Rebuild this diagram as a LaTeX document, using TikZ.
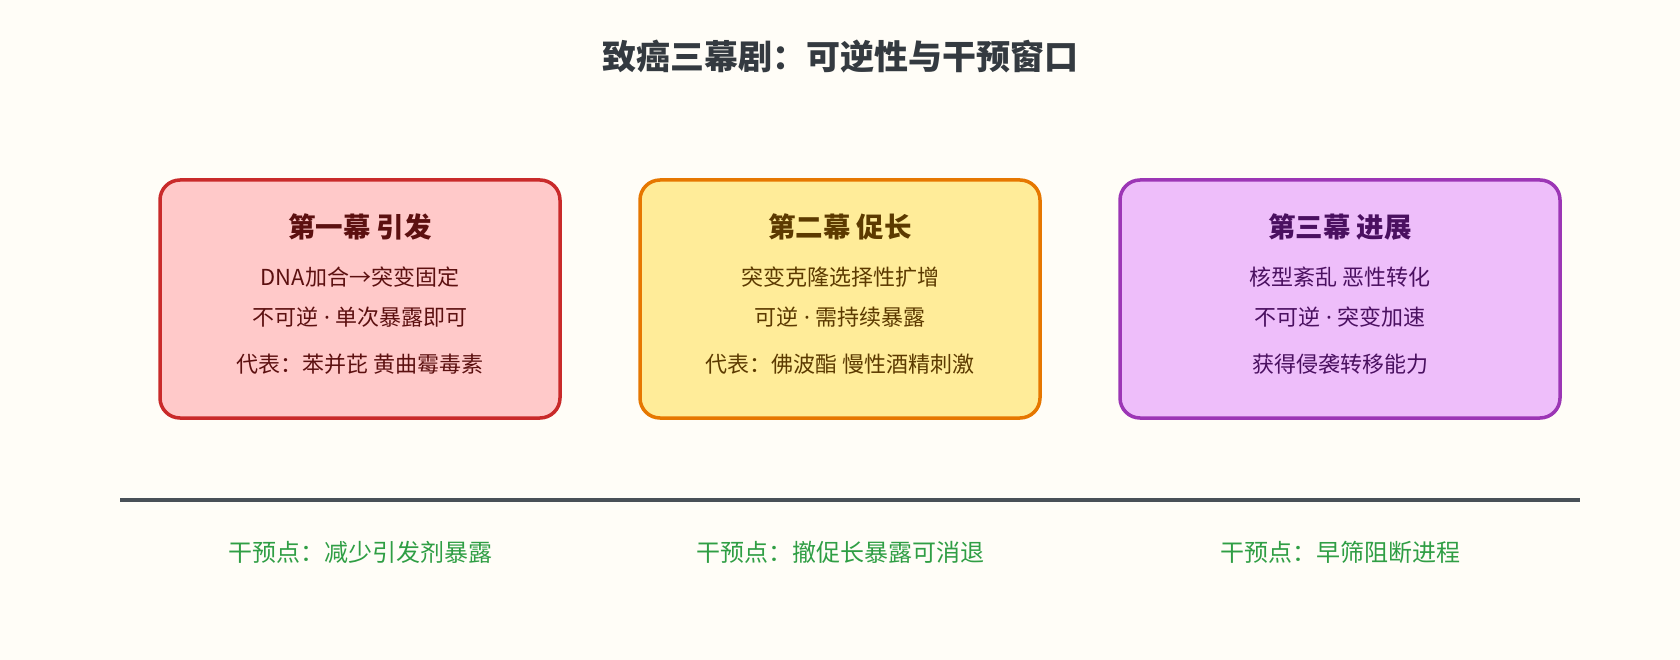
\documentclass[tikz,border=0pt]{standalone}
\usepackage{fontspec}
\setmainfont{Noto Sans CJK SC}
\newfontfamily\latinfont{Noto Sans}
\newcommand{\middot}{{\latinfont\ ·\ }}
\usepackage{tikz}
\usetikzlibrary{positioning}

\definecolor{bgcream}{HTML}{FFFDF7}
\definecolor{titlegray}{HTML}{343A40}
\definecolor{rulegray}{HTML}{495057}
\definecolor{redfill}{HTML}{FFC9C9}
\definecolor{reddraw}{HTML}{C92A2A}
\definecolor{redtext}{HTML}{5C1010}
\definecolor{yellowfill}{HTML}{FFEC99}
\definecolor{yellowdraw}{HTML}{E67700}
\definecolor{yellowtext}{HTML}{5C3A00}
\definecolor{purplefill}{HTML}{EEBEFA}
\definecolor{purpledraw}{HTML}{9C36B5}
\definecolor{purpletext}{HTML}{4A1060}
\definecolor{greentext}{HTML}{2F9E44}

\tikzset{
  actbox/.style={draw, rounded corners=20pt, line width=3.5pt, minimum height=238pt},
  acttitle/.style={font=\fontsize{27.5}{32}\selectfont\bfseries},
  actline/.style={font=\fontsize{22}{26}\selectfont},
  hintline/.style={font=\fontsize{24}{28}\selectfont, text=greentext},
}

\begin{document}
\begin{tikzpicture}[x=1pt, y=-1pt]
            \fill[bgcream] (0,0) rectangle (1680,660);
            \node[font=\fontsize{34}{40}\selectfont\bfseries, text=titlegray] at (840, 57)   (title) {致癌三幕剧：可逆性与干预窗口};

            % act one
            \node[actbox, fill=redfill, draw=reddraw, minimum width=400pt] at (360, 299)   (one) {};
            \node[acttitle, text=redtext] at (360, 227)   (onet) {第一幕 引发};
            \node[actline, text=redtext] at (360, 277)   (onea) {DNA加合→突变固定};
            \node[actline, text=redtext] at (360, 317)   (oneb) {不可逆\middot 单次暴露即可};
            \node[actline, text=redtext] at (360, 364)   (onec) {代表：苯并芘 黄曲霉毒素};

            % act two
            \node[actbox, fill=yellowfill, draw=yellowdraw, minimum width=400pt] at (840, 299)   (two) {};
            \node[acttitle, text=yellowtext] at (840, 227)   (twot) {第二幕 促长};
            \node[actline, text=yellowtext] at (840, 277)   (twoa) {突变克隆选择性扩增};
            \node[actline, text=yellowtext] at (840, 317)   (twob) {可逆\middot 需持续暴露};
            \node[actline, text=yellowtext] at (840, 364)   (twoc) {代表：佛波酯 慢性酒精刺激};

            % act three
            \node[actbox, fill=purplefill, draw=purpledraw, minimum width=440pt] at (1340, 299)   (three) {};
            \node[acttitle, text=purpletext] at (1340, 227)   (threet) {第三幕 进展};
            \node[actline, text=purpletext] at (1340, 277)   (threea) {核型紊乱 恶性转化};
            \node[actline, text=purpletext] at (1340, 317)   (threeb) {不可逆\middot 突变加速};
            \node[actline, text=purpletext] at (1340, 364)   (threec) {获得侵袭转移能力};

            \coordinate (rulel) at (120, 500);
            \coordinate (ruler) at (1580, 500);
            \draw [line width=4pt, rulegray] (rulel) -- (ruler);

            \node[hintline] at (360, 552)   (hone) {干预点：减少引发剂暴露};
            \node[hintline] at (840, 552)   (htwo) {干预点：撤促长暴露可消退};
            \node[hintline] at (1340, 552)   (hthree) {干预点：早筛阻断进程};
        \end{tikzpicture}
\end{document}
